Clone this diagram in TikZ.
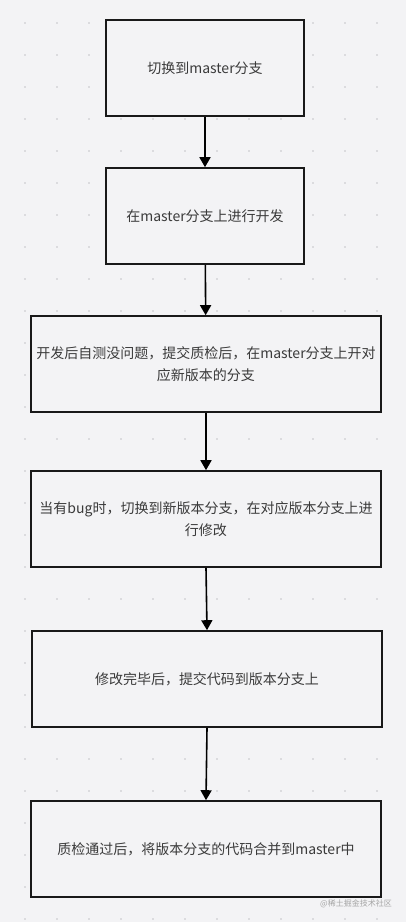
\documentclass[tikz,border=0pt]{standalone}
\usepackage{fontspec}
\newfontfamily\cjk{Noto Sans CJK SC}
\usetikzlibrary{arrows.meta}
\definecolor{bgcol}{HTML}{F3F3F5}
\definecolor{dotcol}{HTML}{C4C4C8}
\definecolor{txtcol}{HTML}{3A3A3A}
\tikzset{
  stepbox/.style={draw=black!90, line width=1.6pt, fill=bgcol, text=txtcol,
    minimum height=96pt, align=center, inner sep=0pt},
  flow/.style={-{Triangle[length=10pt,width=11pt]}, line width=1.6pt}
}

\begin{document}
\begin{tikzpicture}[x=1pt, y=-1pt, font=\cjk\fontsize{14}{22}\selectfont]
		% canvas with dot grid
		\fill[bgcol] (0,0) rectangle (406,922);
		\useasboundingbox (0,0) rectangle (406,922);
		\foreach \x in {25,57,...,380} {
			\foreach \y in {23,55,...,920} {
				\fill[dotcol] (\x,\y) circle (0.8pt);
			}
		}

		% steps
		\node (s1) at (205,68) [stepbox, minimum width=198pt] {切换到master分支};
		\node (s2) at (205,216) [stepbox, minimum width=198pt] {在master分支上进行开发};
		\node (s3) at (206,364) [stepbox, minimum width=350pt] {开发后自测没问题，提交质检后，在master分支上开对\\应新版本的分支};
		\node (s4) at (206,519) [stepbox, minimum width=350pt] {当有bug时，切换到新版本分支，在对应版本分支上进\\行修改};
		\node (s5) at (207,679) [stepbox, minimum width=350pt] {修改完毕后，提交代码到版本分支上};
		\node (s6) at (206,849) [stepbox, minimum width=350pt] {质检通过后，将版本分支的代码合并到master中};

		\draw[flow] (s1) -- (s2);
		\draw[flow] (s2) -- (s3);
		\draw[flow] (s3) -- (s4);
		\draw[flow] (s4.south) -- (s5.north);
		\draw[flow] (s5.south) -- (s6.north);

		% watermark
		\node (wm) at (356,904) [text=black!35, font=\cjk\fontsize{8}{10}\selectfont] {@稀土掘金技术社区};
	\end{tikzpicture}
\end{document}
